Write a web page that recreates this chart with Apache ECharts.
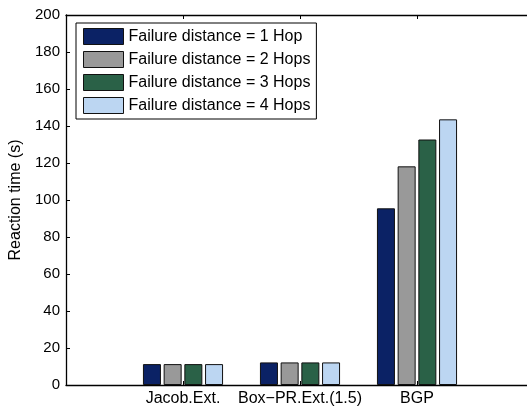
<!DOCTYPE html>
<html>
<head>
<meta charset="utf-8">
<script src="https://cdn.jsdelivr.net/npm/echarts@6/dist/echarts.min.js"></script>
<style>
  html, body { margin: 0; padding: 0; background: #fff; overflow: hidden; }
  #chart { width: 527px; height: 408px; }
</style>
</head>
<body>
<div id="chart"></div>
<script>
// Scenario groups (with empty padding slots at both ends of the axis)
const categories = ['', 'Jacob.Ext.', 'Box\u2212PR.Ext.(1.5)', 'BGP', ''];
const seriesNames = [
  'Failure distance = 1 Hop',
  'Failure distance = 2 Hops',
  'Failure distance = 3 Hops',
  'Failure distance = 4 Hops'
];
// Reaction times in seconds, per scenario slot
const hop1 = [null, 11.3, 12.2, 95.5, null];
const hop2 = [null, 11.3, 12.2, 118.2, null];
const hop3 = [null, 11.3, 12.2, 132.7, null];
const hop4 = [null, 11.3, 12.2, 143.6, null];
const yTicks = { min: 0, max: 200, interval: 20 };

const colors = ['#0b2265', '#999999', '#2a6147', '#bcd6f2'];
const font = 'Liberation Sans, Arial, Helvetica, sans-serif';

const chart = echarts.init(document.getElementById('chart'), null, { renderer: 'canvas' });

function barSeries(name, data, i) {
  return {
    name: name,
    type: 'bar',
    data: data,
    barWidth: 18,
    barGap: '15%',
    xAxisIndex: 0,
    itemStyle: { color: colors[i], borderColor: '#111', borderWidth: 1 },
    emphasis: { disabled: true },
    animation: false
  };
}

const innerTicks = function (idx) { return idx > 0 && idx < categories.length - 1; };

chart.setOption({
  animation: false,
  textStyle: { fontFamily: font, color: '#000' },
  // the plot box runs a little past the right edge of the canvas
  grid: { left: 66, width: 468, top: 15, bottom: 23, containLabel: false, outerBoundsMode: 'none' },
  legend: {
    orient: 'vertical',
    left: 76,
    top: 23,
    padding: [5, 6, 5, 7],
    itemWidth: 40,
    itemHeight: 16,
    itemGap: 6,
    icon: 'rect',
    borderColor: '#000',
    borderWidth: 1,
    backgroundColor: '#fff',
    textStyle: { fontSize: 16, color: '#000', fontFamily: font },
    itemStyle: { borderColor: '#111', borderWidth: 1 },
    data: seriesNames
  },
  xAxis: [
    {
      type: 'category',
      data: categories,
      boundaryGap: false,
      position: 'bottom',
      axisLine: { lineStyle: { color: '#000', width: 1.3 } },
      axisTick: { inside: true, length: 4, lineStyle: { color: '#000' }, interval: innerTicks },
      axisLabel: { color: '#000', fontSize: 16, margin: 6, fontFamily: font, interval: 0 },
      splitLine: { show: false }
    },
    {
      type: 'category',
      data: categories,
      boundaryGap: false,
      position: 'top',
      axisLine: { lineStyle: { color: '#000', width: 1.3 } },
      axisTick: { inside: true, length: 4, lineStyle: { color: '#000' }, interval: innerTicks },
      axisLabel: { show: false },
      splitLine: { show: false }
    }
  ],
  yAxis: {
    type: 'value',
    min: yTicks.min,
    max: yTicks.max,
    interval: yTicks.interval,
    name: 'Reaction time (s)',
    nameLocation: 'middle',
    nameGap: 38,
    nameTextStyle: { fontSize: 16, color: '#000', fontFamily: font },
    axisLine: { show: true, lineStyle: { color: '#000', width: 1.3 } },
    axisTick: { show: true, inside: true, length: 4, lineStyle: { color: '#000' } },
    axisLabel: { color: '#000', fontSize: 15, margin: 6, fontFamily: font },
    splitLine: { show: false }
  },
  series: [
    barSeries(seriesNames[0], hop1, 0),
    barSeries(seriesNames[1], hop2, 1),
    barSeries(seriesNames[2], hop3, 2),
    barSeries(seriesNames[3], hop4, 3)
  ]
});
</script>
</body>
</html>
